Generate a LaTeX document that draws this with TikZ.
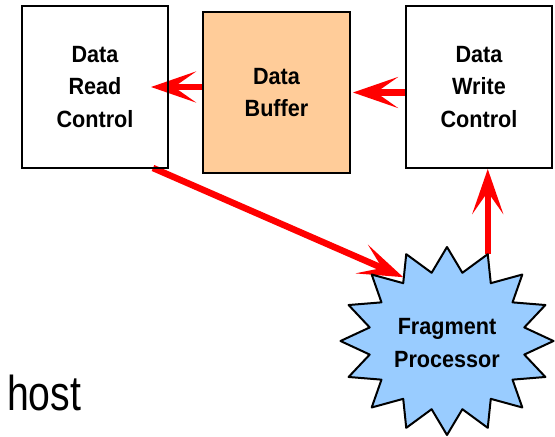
\documentclass[tikz,border=0pt]{standalone}
\usepackage{fontspec}
\setmainfont{Liberation Sans}
\newfontfamily\boxfont[FakeStretch=0.92]{Liberation Sans}
\newfontfamily\hostfont[FakeStretch=0.8]{Liberation Sans}
\usetikzlibrary{arrows.meta,calc}
\pgfdeclarelayer{bg}
\pgfsetlayers{bg,main}
\definecolor{bufferfill}{HTML}{FFCC99}
\definecolor{burstfill}{HTML}{99CCFF}
\tikzset{
  unit/.style={draw=black, line width=2pt, minimum width=146pt, minimum height=162pt,
    align=center, inner sep=0pt, font=\boxfont\bfseries\fontsize{23.5}{32.5}\selectfont},
  label/.style={align=center, inner sep=0pt, font=\boxfont\bfseries\fontsize{23.5}{32.5}\selectfont},
  flow/.style={draw=red, line width=6.5pt,
    -{Stealth[length=45pt, width=31pt, inset=22pt, fill=red]}},
  burst/.style={draw=black, fill=burstfill, line width=2pt, line join=round},
}
\begin{document}
\begin{tikzpicture}[x=1pt, y=-1pt]
  \useasboundingbox (0,0) rectangle (555,437);

  % the three units of the pipeline
  \node[unit] (read) at (95,87) {Data\\Read\\Control};
  \node[unit, fill=bufferfill, minimum width=147pt, minimum height=161pt] (buffer) at (276.5,92.5) {Data\\Buffer};
  \node[unit] (write) at (479,87) {Data\\Write\\Control};

  % sixteen-pointed burst around the fragment processor
  \coordinate (fpc) at (447,341);
  \foreach \k in {0,...,15} {
    \pgfmathsetmacro{\ao}{90-22.5*\k}
    \pgfmathsetmacro{\av}{90-22.5*\k-11.25}
    \coordinate (fp-o\k) at ({447+106.5*cos(\ao)},{341-94*sin(\ao)});
    \coordinate (fp-v\k) at ({447+0.74*106.5*cos(\av)},{341-0.74*94*sin(\av)});
  }
  \draw[burst] (fp-o0) -- (fp-v0)
    \foreach \k in {1,...,15} { -- (fp-o\k) -- (fp-v\k) } -- cycle;
  \node[label] (fp) at (447,343) {Fragment\\Processor};

  % host label
  \node[anchor=base west, inner sep=0pt, font=\hostfont\fontsize{49}{50}\selectfont] (host) at (7,410) {host};

  % data flow arrows, kept beneath the box outlines
  \begin{pgfonlayer}{bg}
    \draw[flow, shorten >=-18pt] (buffer.west |- read.east) -- (read.east);
    \draw[flow] (write.west |- buffer.east) -- ($(buffer.east)+(2,0)$);
    \draw[flow] (fp-o1) -- (fp-o1 |- write.south);
    \draw[flow] ($(read.south east)+(-16,-1)$) -- ($(fp-v14)+(0,-6)$);
  \end{pgfonlayer}
\end{tikzpicture}
\end{document}
